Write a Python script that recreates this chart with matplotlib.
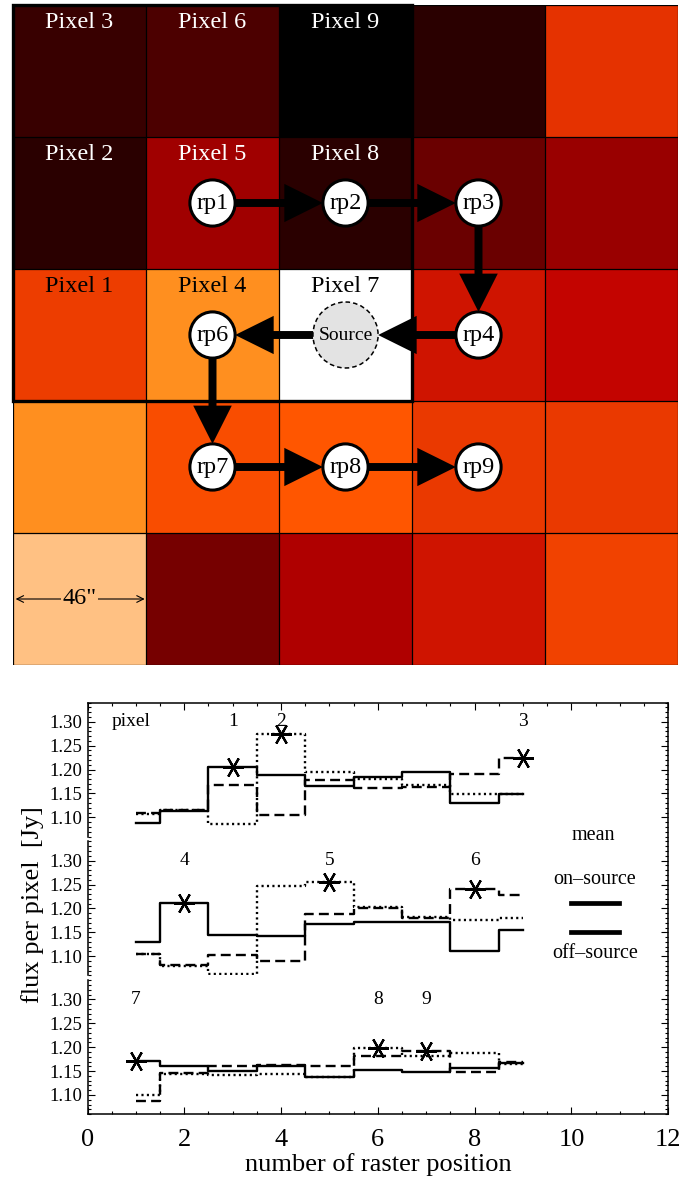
import matplotlib
matplotlib.use("Agg")
import matplotlib.pyplot as plt
import numpy as np
from matplotlib.patches import Ellipse, Rectangle, FancyArrow
from matplotlib.lines import Line2D
from matplotlib.ticker import FixedLocator, MultipleLocator, FormatStrFormatter

plt.rcParams['font.family'] = ['Liberation Serif', 'DejaVu Serif']

W, H = 689, 1182

# --- map of the 5x5 field (gist_heat scale 0..1), rows top to bottom ---
map_row0 = [0.15, 0.20, 0.00, 0.11, 0.60]
map_row1 = [0.11, 0.42, 0.11, 0.28, 0.40]
map_row2 = [0.62, 0.78, 1.00, 0.54, 0.51]
map_row3 = [0.78, 0.65, 0.67, 0.61, 0.61]
map_row4 = [0.875, 0.31, 0.46, 0.54, 0.63]

pixel_ids = [1, 2, 3, 4, 5, 6, 7, 8, 9]
pixel_col = [0, 0, 0, 1, 1, 1, 2, 2, 2]
pixel_row = [2, 1, 0, 2, 1, 0, 2, 1, 0]

route_names = ["rp1", "rp2", "rp3", "rp4", "Source", "rp6", "rp7", "rp8", "rp9"]
route_col = [1, 2, 3, 3, 2, 1, 1, 2, 3]
route_row = [1, 1, 1, 2, 2, 2, 3, 3, 3]

# --- flux per pixel vs raster position ---
raster_pos = [1, 2, 3, 4, 5, 6, 7, 8, 9]
flux_pix1 = [1.088, 1.114, 1.206, 1.189, 1.165, 1.184, 1.196, 1.131, 1.148]
flux_pix2 = [1.108, 1.116, 1.086, 1.274, 1.194, 1.181, 1.168, 1.149, 1.149]
flux_pix3 = [1.109, 1.115, 1.167, 1.106, 1.178, 1.162, 1.164, 1.190, 1.225]
flux_pix4 = [1.129, 1.211, 1.145, 1.143, 1.168, 1.171, 1.171, 1.111, 1.155]
flux_pix5 = [1.105, 1.080, 1.063, 1.246, 1.256, 1.203, 1.181, 1.176, 1.179]
flux_pix6 = [1.105, 1.081, 1.102, 1.089, 1.188, 1.201, 1.179, 1.240, 1.227]
flux_pix7 = [1.172, 1.160, 1.151, 1.161, 1.137, 1.153, 1.149, 1.156, 1.166]
flux_pix8 = [1.099, 1.144, 1.142, 1.144, 1.137, 1.199, 1.182, 1.188, 1.165]
flux_pix9 = [1.088, 1.145, 1.160, 1.163, 1.160, 1.182, 1.193, 1.149, 1.169]
on_source_pos = [3, 4, 9, 2, 5, 8, 1, 6, 7]   # raster position where pixel n sees the source

flux = [flux_pix1, flux_pix2, flux_pix3, flux_pix4, flux_pix5,
        flux_pix6, flux_pix7, flux_pix8, flux_pix9]

fig = plt.figure(figsize=(W / 100, H / 100), dpi=100)
cmap = plt.get_cmap("gist_heat")

# ---------------- top: map with raster route ----------------
values = np.array([map_row0, map_row1, map_row2, map_row3, map_row4])
ax = fig.add_axes([13 / W, 1 - 665 / H, 665 / W, 660 / H])
ax.imshow(values, cmap=cmap, vmin=0, vmax=1, extent=(0, 5, 5, 0),
          aspect="auto", interpolation="nearest")
ax.set_xlim(0, 5)
ax.set_ylim(5, 0)
ax.axis("off")
for i in range(6):
    ax.axhline(i, color="k", lw=0.9, zorder=2)
    ax.axvline(i, color="k", lw=0.9, zorder=2)
ax.add_patch(Rectangle((0, 0), 3, 3, fill=False, ec="k", lw=2.4,
                       zorder=4, clip_on=False))

for pid, c, r in zip(pixel_ids, pixel_col, pixel_row):
    col = "k" if values[r, c] > 0.5 else "white"
    ax.text(c + 0.5, r + 0.13, f"Pixel {pid}", ha="center", va="center",
            color=col, fontsize=17.5, zorder=5)

cx = [c + 0.5 for c in route_col]
cy = [r + 0.5 for r in route_row]
rad = [(0.245, 0.25) if n == "Source" else (0.17, 0.175) for n in route_names]

for i in range(len(cx) - 1):
    dx, dy = cx[i + 1] - cx[i], cy[i + 1] - cy[i]
    L = np.hypot(dx, dy)
    ux, uy = dx / L, dy / L
    rt = rad[i + 1][0] if abs(ux) > 0 else rad[i + 1][1]
    ax.add_patch(FancyArrow(cx[i], cy[i], dx - ux * rt, dy - uy * rt,
                            width=0.06, head_width=0.29, head_length=0.29,
                            length_includes_head=True, color="k", lw=0,
                            zorder=6))

for x, y, (rx, ry), name in zip(cx, cy, rad, route_names):
    if name == "Source":
        ax.add_patch(Ellipse((x, y), 2 * rx, 2 * ry, fc="#e3e3e3", ec="k",
                             lw=1.1, ls=(0, (3, 2)), zorder=7))
        ax.text(x, y, name, ha="center", va="center", fontsize=14, zorder=8)
    else:
        ax.add_patch(Ellipse((x, y), 2 * rx, 2 * ry, fc="white", ec="k",
                             lw=2.2, zorder=7))
        ax.text(x, y, name, ha="center", va="center", fontsize=17.5, zorder=8)

ax.annotate("", xy=(0.02, 4.5), xytext=(0.99, 4.5),
            arrowprops=dict(arrowstyle="<->", lw=0.8, color="k",
                            shrinkA=0, shrinkB=0, mutation_scale=12))
ax.text(0.5, 4.5, '46"', ha="center", va="center", fontsize=17.5, zorder=5,
        bbox=dict(fc=cmap(values[4, 0]), ec="none", pad=1))

# ---------------- bottom: flux per raster position ----------------
left, width = 87.5 / W, 580.8 / W
styles = [dict(ls="-"), dict(ls=(0, (0.9, 1.4))), dict(ls=(0, (4.2, 2.2)))]

for k in range(3):
    top_px = 702.7 + 138.8 * k
    pax = fig.add_axes([left, 1 - (top_px + 133.8) / H, width, 133.8 / H])
    pax.set_xlim(0, 12)
    pax.set_ylim(1.06, 1.34)
    pax.patch.set_visible(False)
    for s in ["top", "right", "bottom"]:
        pax.spines[s].set_visible(False)
    pax.spines["left"].set_linewidth(1.1)
    pax.set_xticks([])
    pax.yaxis.set_major_locator(FixedLocator([1.10, 1.15, 1.20, 1.25, 1.30]))
    pax.yaxis.set_minor_locator(MultipleLocator(0.01))
    pax.yaxis.set_major_formatter(FormatStrFormatter("%.2f"))
    pax.tick_params(axis="y", which="both", direction="in", left=True,
                    right=True, width=0.8, labelsize=13.5, pad=4)
    pax.tick_params(axis="y", which="major", length=5)
    pax.tick_params(axis="y", which="minor", length=2.5)

    for j in range(3):
        pid = 3 * k + j + 1
        y = flux[pid - 1]
        pax.step(raster_pos, y, where="mid", color="k", lw=1.7, **styles[j])
        pos = on_source_pos[pid - 1]
        pax.plot(pos, y[pos - 1], marker=(6, 2, 90), ms=15, mew=1.6,
                 color="k", zorder=5)
        pax.text(pos, 1.30, str(pid), ha="center", va="center", fontsize=14)
    if k == 0:
        pax.text(0.5, 1.30, "pixel", ha="left", va="center", fontsize=14)

frame = fig.add_axes([left, 1 - 1114.1 / H, width, 411.4 / H])
frame.patch.set_visible(False)
frame.set_xlim(0, 12)
frame.spines["left"].set_visible(False)
for s in ["top", "right", "bottom"]:
    frame.spines[s].set_linewidth(1.1)
frame.set_yticks([])
frame.xaxis.set_major_locator(MultipleLocator(2))
frame.xaxis.set_minor_locator(MultipleLocator(0.5))
frame.tick_params(axis="x", which="both", direction="in", top=True,
                  bottom=True, width=0.8, labelsize=19, pad=11)
frame.tick_params(axis="x", which="major", length=5)
frame.tick_params(axis="x", which="minor", length=2.5)
frame.set_xlabel("number of raster position", fontsize=19, labelpad=1)

fig.text(33 / W, 1 - 905 / H, "flux per pixel  [Jy]", rotation=90,
         ha="center", va="center", fontsize=19)

# legend
fig.text(593 / W, 1 - 835 / H, "mean", ha="center", va="center", fontsize=14.5)
fig.text(595 / W, 1 - 880 / H, "on\u2013source", ha="center", va="center",
         fontsize=14.5)
fig.text(595 / W, 1 - 954 / H, "off\u2013source", ha="center", va="center",
         fontsize=14.5)
for ypx in (903, 932):
    fig.add_artist(Line2D([571 / W, 619 / W], [1 - ypx / H, 1 - ypx / H],
                          color="k", lw=3.4, transform=fig.transFigure))

fig.savefig("out.png", dpi=100, facecolor="white")
